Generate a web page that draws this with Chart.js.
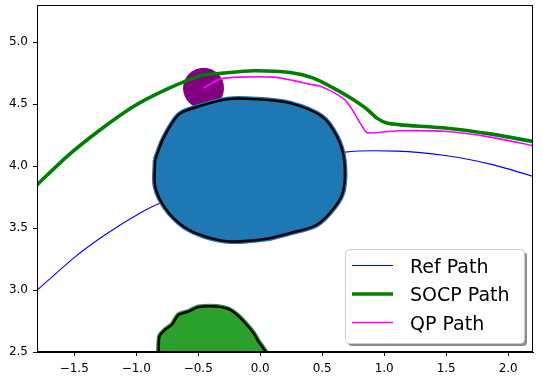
<!DOCTYPE html>
<html>
<head>
<meta charset="utf-8">
<script src="https://cdn.jsdelivr.net/npm/chart.js@4.4.1/dist/chart.umd.min.js"></script>
<style>
  body { margin: 0; background: #fff; }
  #wrap { width: 543px; height: 380px; }
</style>
</head>
<body>
<div id="wrap"><canvas id="c" width="543" height="380"></canvas></div>
<script>
// axis ticks
const xTicks = [-1.5, -1.0, -0.5, 0.0, 0.5, 1.0, 1.5, 2.0];
const yTicks = [2.5, 3.0, 3.5, 4.0, 4.5, 5.0];

// paths
const refX = [-1.8, -1.505, -1.25, -0.968, -0.793, -0.3, 0.3, 0.685, 1.102, 1.492, 1.882, 2.204];
const refY = [2.997, 3.258, 3.446, 3.621, 3.706, 3.85, 4.02, 4.113, 4.121, 4.085, 4.010, 3.916];

const socpX = [-1.8, -1.559, -1.29, -1.022, -0.752, -0.484, -0.296, -0.054, 0.242, 0.43, 0.618, 0.752, 0.86, 0.941, 1.022, 1.129, 1.506, 1.855, 2.204];
const socpY = [3.849, 4.077, 4.293, 4.481, 4.621, 4.728, 4.75, 4.769, 4.755, 4.71, 4.615, 4.535, 4.46, 4.387, 4.347, 4.333, 4.306, 4.26, 4.198];

const qpX = [-0.457, -0.323, -0.161, 0.107, 0.269, 0.403, 0.484, 0.591, 0.685, 0.752, 0.806, 0.86, 0.941, 1.129, 1.506, 1.855, 2.204];
const qpY = [4.629, 4.702, 4.718, 4.718, 4.69, 4.66, 4.645, 4.595, 4.532, 4.44, 4.347, 4.271, 4.271, 4.285, 4.279, 4.234, 4.164];

// obstacles
const blueX = [-0.847, -0.78, -0.659, -0.524, -0.269, -0.027, 0.242, 0.498, 0.619, 0.677, 0.672, 0.605, 0.457, 0.242, 0.054, -0.242, -0.444, -0.619, -0.766, -0.847, -0.847];
const blueY = [4.051, 4.226, 4.414, 4.473, 4.54, 4.54, 4.508, 4.4, 4.239, 4.051, 3.809, 3.674, 3.527, 3.46, 3.414, 3.392, 3.432, 3.513, 3.661, 3.835, 4.051];

const greenX = [-0.82, -0.812, -0.766, -0.712, -0.659, -0.578, -0.498, -0.349, -0.256, -0.188, -0.121, -0.054, -0.014, 0.054];
const greenY = [2.49, 2.626, 2.68, 2.72, 2.801, 2.827, 2.863, 2.868, 2.847, 2.801, 2.734, 2.653, 2.585, 2.49];

const circleX = [-0.457];
const circleY = [4.629];

const pathLabels = ['Ref Path', 'SOCP Path', 'QP Path'];

const pts = (xs, ys) => xs.map((x, i) => ({ x: x, y: ys[i] }));
const fmt = v => v.toFixed(1).replace('-', '\u2212');

const frame = {
  id: 'frame',
  afterDatasetsDraw(chart) {
    const a = chart.chartArea;
    const ctx = chart.ctx;
    ctx.save();
    ctx.strokeStyle = '#000';
    ctx.lineWidth = 1;
    ctx.strokeRect(a.left + 0.5, a.top + 0.5, a.right - a.left - 1, a.bottom - a.top - 1);
    ctx.restore();
  }
};

const boxLegend = {
  id: 'boxLegend',
  afterDraw(chart) {
    const ctx = chart.ctx;
    const a = chart.chartArea;
    const items = pathLabels.map(l => chart.data.datasets.find(d => d.label === l));
    const w = 179, h = 94;
    const x = a.right - 9 - w, y = a.bottom - 9 - h;
    ctx.save();
    // shadow
    ctx.fillStyle = 'rgba(0,0,0,0.45)';
    ctx.beginPath();
    ctx.roundRect(x + 3, y + 3, w, h, 4);
    ctx.fill();
    ctx.fillStyle = '#fff';
    ctx.strokeStyle = '#cccccc';
    ctx.lineWidth = 1;
    ctx.beginPath();
    ctx.roundRect(x + 0.5, y + 0.5, w, h, 4);
    ctx.fill();
    ctx.stroke();
    ctx.font = '19px "DejaVu Sans"';
    ctx.textBaseline = 'alphabetic';
    items.forEach((d, i) => {
      const cy = y + 16.5 + i * 28.5;
      ctx.strokeStyle = d.borderColor;
      ctx.lineWidth = d.borderWidth;
      ctx.beginPath();
      ctx.moveTo(x + 7, cy);
      ctx.lineTo(x + 48, cy);
      ctx.stroke();
      ctx.fillStyle = '#000';
      ctx.fillText(d.label, x + 65, cy + 7);
    });
    ctx.restore();
  }
};

const lineSet = (label, xs, ys, color, width, order) => ({
  label: label,
  data: pts(xs, ys),
  showLine: true,
  borderColor: color,
  borderWidth: width,
  pointRadius: 0,
  tension: 0.25,
  fill: false,
  clip: 0,
  order: order
});

new Chart(document.getElementById('c'), {
  type: 'scatter',
  data: {
    datasets: [
      lineSet('QP Path', qpX, qpY, '#ff00ff', 1.6, 0),
      lineSet('SOCP Path', socpX, socpY, '#008000', 3.6, 1),
      {
        label: 'blue outline', data: pts(blueX, blueY), showLine: true, tension: 0.3,
        borderColor: '#000', borderWidth: 2.5, pointRadius: 0, fill: false, clip: 0, order: 2
      },
      {
        label: 'blue obstacle', data: pts(blueX, blueY), showLine: true, tension: 0.3,
        borderColor: '#1f77b4', backgroundColor: '#1f77b4', borderWidth: 5,
        pointRadius: 0, fill: 'shape', clip: 0, order: 3
      },
      {
        label: 'circle', data: pts(circleX, circleY),
        backgroundColor: '#800080', borderWidth: 0, pointRadius: 20.5, clip: 0, order: 4
      },
      {
        label: 'green outline', data: pts(greenX, greenY), showLine: true, tension: 0.2,
        borderColor: '#000', borderWidth: 2.5, pointRadius: 0, fill: false, clip: 0, order: 5
      },
      {
        label: 'green obstacle', data: pts(greenX, greenY), showLine: true, tension: 0.2,
        borderColor: '#2ca02c', backgroundColor: '#2ca02c', borderWidth: 5,
        pointRadius: 0, fill: 'shape', clip: 0, order: 6
      },
      lineSet('Ref Path', refX, refY, '#0000ff', 1.1, 7)
    ]
  },
  options: {
    responsive: false,
    animation: false,
    layout: { autoPadding: false, padding: { top: 5, right: 10, left: 0, bottom: 0 } },
    scales: {
      x: {
        type: 'linear', min: -1.8, max: 2.2,
        afterBuildTicks: axis => { axis.ticks = xTicks.map(v => ({ value: v })); },
        afterFit: axis => { axis.height = 28; axis.paddingLeft = 0; axis.paddingRight = 0; },
        ticks: { callback: fmt, color: '#000', font: { family: 'DejaVu Sans', size: 12 }, padding: 6, maxRotation: 0 },
        grid: { drawOnChartArea: false, drawTicks: true, tickLength: 4, color: '#000' },
        border: { color: '#000', width: 1 }
      },
      y: {
        type: 'linear', min: 2.5, max: 5.3,
        afterBuildTicks: axis => { axis.ticks = yTicks.map(v => ({ value: v })); },
        afterFit: axis => { axis.width = 37; axis.paddingTop = 0; axis.paddingBottom = 0; },
        ticks: { callback: fmt, color: '#000', font: { family: 'DejaVu Sans', size: 12 }, padding: 5 },
        grid: { drawOnChartArea: false, drawTicks: true, tickLength: 4, color: '#000' },
        border: { color: '#000', width: 1 }
      }
    },
    plugins: {
      legend: { display: false },
      tooltip: { enabled: false }
    }
  },
  plugins: [frame, boxLegend]
});
</script>
</body>
</html>
